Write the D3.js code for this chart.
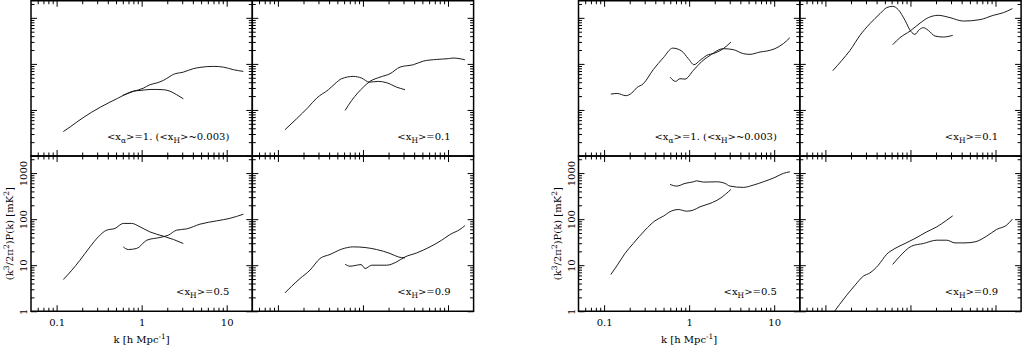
<!DOCTYPE html>
<html><head><meta charset="utf-8">
<script src="https://cdn.jsdelivr.net/npm/d3@7"></script>
<style>body{margin:0;background:#fff}svg{display:block}</style>
</head><body><svg id="c" width="1023" height="346"></svg>
<script>
// ---------- data (k [h/Mpc], Delta^2 [mK^2]) ----------
// left group (A)
const A_xa1_small = [[0.12,3.4],[0.145,4.3],[0.172,5.43],[0.21,7.0],[0.259,8.96],[0.33,11.6],[0.425,14.8],[0.52,17.8],[0.608,20.7],[0.798,25.6],[0.957,26.5],[1.25,27.8],[1.47,27.9],[1.80,27.5],[2.15,25.6],[2.58,21.4],[3.09,17.5]];
const A_xa1_large = [[0.6,20.7],[0.8,25.3],[1.04,29.5],[1.25,35.3],[1.5,38.5],[1.80,43.8],[2.1,52],[2.36,59.1],[3.09,66.3],[4.05,78.7],[4.85,83.9],[6.95,88.3],[9.12,85.2],[11.97,74.8],[15.7,68.7]];
const A_xH01_small = [[0.121,3.71],[0.166,6.44],[0.228,11.5],[0.286,18.1],[0.392,27.5],[0.469,37.1],[0.562,47.7],[0.771,53.5],[0.966,49.1],[1.19,40.2],[1.51,41.7],[1.90,39.0],[2.49,31.3],[3.12,27.5]];
const A_xH01_large = [[0.617,9.75],[0.738,16.1],[1.01,31.3],[1.21,41.7],[1.59,51.6],[2.08,61.2],[2.73,85.2],[3.92,96.1],[5.13,115],[7.36,125],[10.1,130],[11.5,134],[15.8,123]];
const A_xH05_small = [[0.12,4.89],[0.151,7.79],[0.188,12.8],[0.247,25.0],[0.309,41.2],[0.388,57.7],[0.486,62.8],[0.608,80.7],[0.764,80.7],[0.957,68.0],[1.25,52.9],[1.80,42.7],[2.36,36.2],[3.09,29.6]];
const A_xH05_large = [[0.608,25.0],[0.697,21.9],[0.875,23.1],[1.15,34.9],[1.64,40.0],[2.06,44.9],[2.58,57.7],[3.39,61.5],[4.85,77.8],[7.62,91.8],[10.9,104],[15.7,128]];
const A_xH09_small = [[0.121,2.50],[0.145,3.50],[0.182,5.14],[0.238,7.79],[0.313,14.0],[0.410,17.1],[0.562,22.3],[0.771,25.0],[1.06,24.2],[1.45,21.9],[2.08,18.0],[2.61,15.1],[3.12,14.4]];
const A_xH09_large = [[0.617,10.5],[0.705,9.51],[0.845,10.0],[0.95,10.3],[1.06,8.48],[1.27,10.0],[1.90,10.0],[2.49,11.8],[3.12,15.1],[4.29,18.5],[6.14,25.0],[8.43,34.9],[10.6,46.5],[13.8,59.7],[15.8,72]];
// right group (B)
const B_xa1_small = [[0.120,22.1],[0.143,22.8],[0.180,20.4],[0.211,23.2],[0.242,30.4],[0.289,37.1],[0.378,74.8],[0.497,136],[0.641,220],[0.817,190],[0.977,130],[1.14,96.1],[1.34,119],[1.61,153],[2.01,172],[2.52,214],[3.10,298]];
const B_xa1_large = [[0.596,51.6],[0.695,41.7],[0.780,47.7],[0.893,46.7],[1.12,72.2],[1.41,113],[1.76,153],[2.52,214],[3.30,204],[4.33,167],[5.19,161],[6.80,181],[8.16,190],[10.2,214],[12.8,275],[15.3,371]];
const B_xH01_small = [[0.122,71.1],[0.156,119],[0.195,197],[0.255,417],[0.334,748],[0.439,1233],[0.526,1667],[0.618,1778],[0.719,1507],[0.863,883],[1.01,509],[1.13,438],[1.27,554],[1.42,612],[1.62,535],[1.95,402],[2.43,383],[3.14,417]];
const B_xH01_large = [[0.618,261],[0.753,371],[0.989,516],[1.30,771],[1.62,1010],[2.12,1133],[2.92,1010],[4.18,851],[6.58,914],[9.42,1133],[12.4,1297],[15.8,1585]];
const B_xH05_small = [[0.120,6.28],[0.143,10],[0.176,18.0],[0.220,29.6],[0.303,57.7],[0.396,91.8],[0.497,116],[0.624,151],[0.745,162],[0.935,149],[1.12,157],[1.34,185],[1.76,219],[2.31,282],[3.10,442]];
const B_xH05_large = [[0.596,568],[0.715,522],[0.893,597],[1.12,647],[1.23,680],[1.47,637],[2.11,647],[2.64,597],[3.02,522],[4.33,489],[5.67,548],[7.45,647],[10.2,807],[12.8,985],[15.3,1067]];
const B_xH09_small = [[0.12,0.85],[0.178,2.23],[0.223,3.67],[0.279,5.77],[0.334,6.80],[0.419,10],[0.526,17.3],[0.658,23.1],[0.863,29.6],[1.13,38.0],[1.55,52.9],[2.04,68.0],[2.67,95.1],[3.14,118]];
const B_xH09_large = [[0.618,10.4],[0.753,15.7],[1.03,25.9],[1.42,29.6],[2.04,34.9],[2.67,34.9],[3.34,30.5],[4.38,30.5],[5.74,32.1],[7.87,42.7],[10.3,59.7],[13.5,74.1],[15.8,100]];

const xDomain = [0.05, 20];
const yDomain = [1, 2350];
const xMajor = [0.1, 1, 10];
const xMinor = [0.06,0.07,0.08,0.09,0.2,0.3,0.4,0.5,0.6,0.7,0.8,0.9,2,3,4,5,6,7,8,9];
const yMajor = [1, 10, 100, 1000];
const yMinor = [2,3,4,5,6,7,8,9,20,30,40,50,60,70,80,90,200,300,400,500,600,700,800,900,2000];
const xTickLabels = ["0.1", "1", "10"];
const yTickLabels = ["1", "10", "100", "1000"];

// annotation segments: [text, isSubscript]
const label_xa1 = [["<x",0],["α",1],[">=1. (<x",0],["H",1],[">~0.003)",0]];
const label_xH01 = [["<x",0],["H",1],[">=0.1",0]];
const label_xH05 = [["<x",0],["H",1],[">=0.5",0]];
const label_xH09 = [["<x",0],["H",1],[">=0.9",0]];

const groups = [
  {name:"A", panels:[
    {row:0,col:0,series:[A_xa1_small,A_xa1_large],label:label_xa1},
    {row:0,col:1,series:[A_xH01_small,A_xH01_large],label:label_xH01},
    {row:1,col:0,series:[A_xH05_small,A_xH05_large],label:label_xH05},
    {row:1,col:1,series:[A_xH09_small,A_xH09_large],label:label_xH09}]},
  {name:"B", panels:[
    {row:0,col:0,series:[B_xa1_small,B_xa1_large],label:label_xa1},
    {row:0,col:1,series:[B_xH01_small,B_xH01_large],label:label_xH01},
    {row:1,col:0,series:[B_xH05_small,B_xH05_large],label:label_xH05},
    {row:1,col:1,series:[B_xH09_small,B_xH09_large],label:label_xH09}]}
];

// ---------- layout ----------
const W = 221.3, H = 155.25, TOP = 0.75;
const groupX = [31, 578.5];
const FONT = "'DejaVu Serif', 'Liberation Serif', serif";

const svg = d3.select("#c");
const x = d3.scaleLog().domain(xDomain).range([0, W]);
const y = d3.scaleLog().domain(yDomain).range([H, 0]);
const line = d3.line().x(d => x(d[0])).y(d => y(d[1])).curve(d3.curveMonotoneX);

svg.append("defs").append("clipPath").attr("id","clip")
  .append("rect").attr("x",0).attr("y",0).attr("width",W).attr("height",H);

function styleAxis(g){
  g.select(".domain").remove();
  g.selectAll("line").attr("stroke","#000").attr("stroke-width",1);
}

groups.forEach((grp, gi) => {
  const G = svg.append("g").attr("transform", `translate(${groupX[gi]},${TOP})`);
  grp.panels.forEach(p => {
    const P = G.append("g").attr("transform", `translate(${p.col*W},${p.row*H})`);
    // curves
    P.append("g").attr("clip-path","url(#clip)")
      .selectAll("path").data(p.series).join("path")
      .attr("d", line).attr("fill","none").attr("stroke","#111").attr("stroke-width",0.95);
    // ticks on all four sides, pointing inward
    [[xMajor,6],[xMinor,3.5]].forEach(([vals,len]) => {
      P.append("g").attr("transform",`translate(0,${H})`)
        .call(d3.axisBottom(x).tickValues(vals).tickSize(-len).tickFormat("")).call(styleAxis);
      P.append("g")
        .call(d3.axisTop(x).tickValues(vals).tickSize(-len).tickFormat("")).call(styleAxis);
    });
    [[yMajor,6],[yMinor,3.5]].forEach(([vals,len]) => {
      P.append("g")
        .call(d3.axisLeft(y).tickValues(vals).tickSize(-len).tickFormat("")).call(styleAxis);
      P.append("g").attr("transform",`translate(${W},0)`)
        .call(d3.axisRight(y).tickValues(vals).tickSize(-len).tickFormat("")).call(styleAxis);
    });
    // frame
    P.append("rect").attr("width",W).attr("height",H)
      .attr("fill","none").attr("stroke","#000").attr("stroke-width",1.5);
    // annotation
    const t = P.append("text").attr("x", W-23).attr("y", H-16)
      .attr("text-anchor","end").attr("font-family",FONT).attr("font-size",10)
      .attr("fill","#000");
    let shifted = false;
    p.label.forEach(([s, sub]) => {
      const ts = t.append("tspan").text(s);
      if (sub && !shifted) { ts.attr("dy",3).attr("font-size",7.5); shifted = true; }
      else if (!sub && shifted) { ts.attr("dy",-3); shifted = false; }
    });
    // tick labels for bottom-left panel of each group
    if (p.row === 1 && p.col === 0) {
      const xl = P.append("g").attr("transform",`translate(0,${H})`)
        .call(d3.axisBottom(x).tickValues(xMajor).tickSize(0).tickPadding(8)
          .tickFormat((d,i) => xTickLabels[i]));
      xl.select(".domain").remove();
      xl.selectAll("text").attr("font-family",FONT).attr("font-size",10).attr("fill","#000");
      const yl = P.append("g")
        .call(d3.axisLeft(y).tickValues(yMajor).tickSize(0)
          .tickFormat((d,i) => yTickLabels[i]));
      yl.select(".domain").remove();
      yl.selectAll("text").attr("font-family",FONT).attr("font-size",10).attr("fill","#000")
        .attr("text-anchor","middle").attr("x",0).attr("dy",0).attr("y",-4)
        .attr("transform","rotate(-90)");
      // x axis title
      const xt = P.append("text").attr("x", x(1)).attr("y", H+32)
        .attr("text-anchor","middle").attr("font-family",FONT).attr("font-size",10).attr("fill","#000");
      xt.append("tspan").text("k  [h  Mpc");
      xt.append("tspan").text("-1").attr("dy",-4).attr("font-size",7.5);
      xt.append("tspan").text("]").attr("dy",4);
      // y axis title
      const yt = P.append("text").attr("transform",`translate(-18,${H/2}) rotate(-90)`)
        .attr("text-anchor","middle").attr("font-family",FONT).attr("font-size",10).attr("fill","#000");
      yt.append("tspan").text("(k");
      yt.append("tspan").text("3").attr("dy",-4).attr("font-size",7.5);
      yt.append("tspan").text("/2π").attr("dy",4);
      yt.append("tspan").text("2").attr("dy",-4).attr("font-size",7.5);
      yt.append("tspan").text(")P(k)  [mK").attr("dy",4);
      yt.append("tspan").text("2").attr("dy",-4).attr("font-size",7.5);
      yt.append("tspan").text("]").attr("dy",4);
    }
  });
});
</script></body></html>
